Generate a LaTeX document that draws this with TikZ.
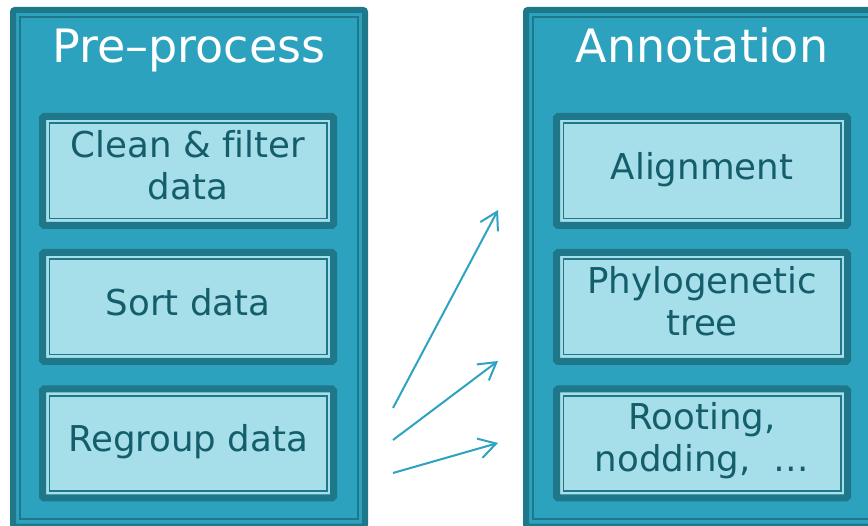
\documentclass[tikz,border=0pt]{standalone}
\usepackage{fontspec}
\setmainfont[Ligatures={NoCommon}]{DejaVu Sans}
\usetikzlibrary{arrows.meta}

\definecolor{tealdark}{HTML}{1F778A}
\definecolor{tealmid}{HTML}{2CA2BF}
\definecolor{teallight}{HTML}{A6DEEA}
\definecolor{tealtext}{HTML}{145E6B}
\definecolor{arrowteal}{HTML}{2EA3C1}

\tikzset{
  panel/.style={draw=tealdark, fill=tealmid, line width=6pt, rounded corners=2pt,
    minimum width=352pt, minimum height=516.5pt, inner sep=0pt, outer sep=0pt},
  paneltitle/.style={text=white, font=\fontsize{46}{50}\selectfont, anchor=base, inner sep=0pt},
  stepbox/.style={draw=tealdark, fill=teallight, line width=7pt, rounded corners=1.5pt,
    minimum width=291pt, minimum height=109pt, inner sep=0pt, outer sep=0pt,
    text=tealtext, font=\fontsize{35.6}{42}\selectfont, align=center,
    execute at begin node=\strut, execute at end node=\strut},
  panelinset/.style={draw=tealdark, line width=2pt},
  boxinset/.style={draw=tealdark, line width=1.6pt},
  flow/.style={draw=arrowteal, line width=2pt,
    -{Straight Barb[length=17pt,width=20pt,line width=2pt]}}
}

\begin{document}
\begin{tikzpicture}[x=1pt, y=-1pt]
  \useasboundingbox (0,0) rectangle (868,526);

  % two large panels with a thin inner frame
  \node[panel] (pre) at (189,268.25) {};
  \node[panel] (ann) at (702,268.25) {};
  \foreach \p in {pre,ann}
    \draw[panelinset] ([shift={(7pt,-7pt)}]\p.north west) rectangle ([shift={(-7pt,7pt)}]\p.south east);

  \node[paneltitle] (pretitle) at (189,63) {Pre–process};
  \node[paneltitle] (anntitle) at (702,63) {Annotation};

  % steps of each panel
  \node[stepbox] (clean)  at (188,171)   {Clean \& filter\\data};
  \node[stepbox] (sort)   at (188,307)   {Sort data};
  \node[stepbox] (regroup) at (188,443.5) {Regroup data};

  \node[stepbox] (align)  at (702,171)   {Alignment};
  \node[stepbox] (phylo)  at (702,307)   {Phylogenetic\\tree};
  \node[stepbox] (root)   at (702,443.5) {Rooting,\\nodding,\ \ …};

  \foreach \b in {clean,sort,regroup,align,phylo,root}
    \draw[boxinset] ([shift={(6.8pt,-6.8pt)}]\b.north west) rectangle ([shift={(-6.8pt,6.8pt)}]\b.south east);

  % arrows between the panels
  \coordinate (s1) at (393,408);
  \coordinate (e1) at (498,210);
  \coordinate (s2) at (393,440);
  \coordinate (e2) at (498,361);
  \coordinate (s3) at (393,473);
  \coordinate (e3) at (498,443);
  \draw[flow] (s1) -- (e1);
  \draw[flow] (s2) -- (e2);
  \draw[flow] (s3) -- (e3);
\end{tikzpicture}
\end{document}
